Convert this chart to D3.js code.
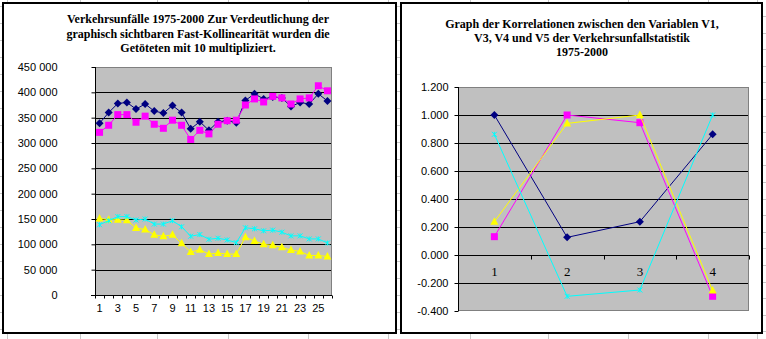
<!DOCTYPE html>
<html><head><meta charset="utf-8">
<script src="https://cdn.jsdelivr.net/npm/d3@7"></script>
<style>body{margin:0;background:#fff}svg{display:block}</style>
</head><body>
<script>
// ---------- DATA ----------
const years = d3.range(1, 27);
const xTickLabels = ["1","3","5","7","9","11","13","15","17","19","21","23","25"];
const leftYTicks = [0,50000,100000,150000,200000,250000,300000,350000,400000,450000];
const seriesNavy = [339000,360000,378000,380000,367000,377000,363000,359000,374000,360000,328000,342000,325000,342000,344000,340000,384000,397000,387000,391000,389000,372000,380000,377000,397000,383000];
const seriesMagenta = [321000,335000,356000,356000,341000,353000,337000,329000,345000,335000,307000,325000,318000,337000,344000,345000,375000,387000,381000,392000,389000,377000,387000,389000,413000,403000];
const seriesYellow = [151000,148700,148700,147300,132000,129300,118700,116000,118700,102000,84700,89300,80700,82700,80700,80700,114000,106700,100000,98000,94000,88700,86000,78000,78000,76000];
const seriesCyan = [138700,146700,154700,154700,148000,150000,140000,140000,146700,134700,116000,119300,110000,112000,108700,103300,132700,130700,126700,128000,124000,116700,116700,110700,110700,102700];

const corrCats = ["1","2","3","4"];
const rightYTicks = [-0.4,-0.2,0,0.2,0.4,0.6,0.8,1.0,1.2];
const corrV1 = [1.000, 0.126, 0.238, 0.862];
const corrV3 = [0.131, 1.000, 0.945, -0.295];
const corrV4 = [0.238, 0.940, 1.000, -0.254];
const corrV5 = [0.862, -0.295, -0.250, 1.000];

const titleLeft = ["Verkehrsunfälle 1975-2000 Zur Verdeutlichung der","graphisch sichtbaren Fast-Kollinearität wurden die","Getöteten mit 10 multipliziert."];
const titleRight = ["Graph der Korrelationen zwischen den Variablen V1,","V3, V4 und V5 der Verkehrsunfallstatistik","1975-2000"];

// ---------- DRAW ----------
const W = 766, H = 339;
const svg = d3.select("body").append("svg").attr("width", W).attr("height", H);

// spreadsheet background grid
const gridCol = "#c8c8c8";
const bg = svg.append("g").attr("shape-rendering","crispEdges");
[7,80,157,228,308,388,470,548,628,708,757].forEach(x => {
  bg.append("line").attr("x1",x+0.5).attr("x2",x+0.5).attr("y1",0).attr("y2",H).attr("stroke",gridCol);
});
for (let y = 6; y < H; y += 17) {
  bg.append("line").attr("x1",0).attr("x2",762).attr("y1",y+0.5).attr("y2",y+0.5).attr("stroke",gridCol);
}
for (let y = 16; y < H; y += 16.6) {
  bg.append("line").attr("x1",762).attr("x2",W).attr("y1",Math.round(y)+0.5).attr("y2",Math.round(y)+0.5).attr("stroke",gridCol);
}

// chart frames
svg.append("rect").attr("x",3).attr("y",3).attr("width",393).attr("height",330).attr("fill","#fff").attr("stroke","#000").attr("stroke-width",2);
svg.append("rect").attr("x",401).attr("y",3).attr("width",361).attr("height",330).attr("fill","#fff").attr("stroke","#000").attr("stroke-width",2);

// marker types
const diamond = {draw(c){c.moveTo(0,-4);c.lineTo(4,0);c.lineTo(0,4);c.lineTo(-4,0);c.closePath();}};
const square = {draw(c){c.moveTo(-3.5,-3.5);c.lineTo(3.5,-3.5);c.lineTo(3.5,3.5);c.lineTo(-3.5,3.5);c.closePath();}};
const triangle = {draw(c){c.moveTo(0,-4.5);c.lineTo(4,3);c.lineTo(-4,3);c.closePath();}};
const xmark = {draw(c){c.moveTo(-2.5,-2.5);c.lineTo(2.5,2.5);c.moveTo(-2.5,2.5);c.lineTo(2.5,-2.5);c.moveTo(0,-2.5);c.lineTo(0,2.5);}};

function drawSeries(g, data, x, y, color, type, stroked) {
  const line = d3.line().x((d,i)=>x(i)).y(d=>y(d));
  g.append("path").attr("d", line(data)).attr("fill","none").attr("stroke",color).attr("stroke-width",1);
  const sym = d3.symbol().type(type);
  g.selectAll(null).data(data).enter().append("path")
    .attr("transform",(d,i)=>`translate(${x(i)},${y(d)})`)
    .attr("d", sym())
    .attr("fill", stroked ? "none" : color)
    .attr("stroke", stroked ? color : "none")
    .attr("stroke-width", 1);
}

// ----- Left chart -----
{
  const x0 = 95, x1 = 332, yTop = 67, yBot = 295;
  const xb = d3.scaleBand().domain(years).range([x0, x1]);
  const xc = i => xb(years[i]) + xb.bandwidth()/2;
  const y = d3.scaleLinear().domain([0,450000]).range([yBot, yTop]);
  const g = svg.append("g");
  g.append("rect").attr("x",x0).attr("y",yTop).attr("width",x1-x0).attr("height",yBot-yTop).attr("fill","#c0c0c0");
  const grid = g.append("g").attr("shape-rendering","crispEdges");
  leftYTicks.filter(v=>v>0 && v<450000).forEach(v => {
    grid.append("line").attr("x1",x0).attr("x2",x1).attr("y1",Math.round(y(v))+0.5).attr("y2",Math.round(y(v))+0.5).attr("stroke","#000");
  });
  grid.append("path").attr("d",`M${x0},${yTop+0.5}H${x1-0.5}V${yBot}`).attr("fill","none").attr("stroke","#808080");

  // y axis
  const ya = d3.axisLeft(y).tickValues(leftYTicks).tickSize(4).tickPadding(34)
    .tickFormat(v => v === 0 ? "0" : d3.format(",")(v).replace(/,/g, " "));
  const yag = g.append("g").attr("transform",`translate(${x0+0.5},0)`).call(ya);
  yag.select(".domain").attr("stroke","#000").attr("d",`M-0,${yTop}V${yBot}`);
  yag.selectAll("text").attr("font-family","Liberation Sans, Arial, sans-serif").attr("font-size",11).attr("fill","#000");
  // x axis
  const xa = d3.axisBottom(xb).tickSize(0).tickFormat(d => xTickLabels.includes(String(d)) ? d : "").tickPadding(9);
  const xag = g.append("g").attr("transform",`translate(0,${yBot+0.5})`).call(xa);
  xag.select(".domain").attr("d",`M${x0-4},0H${x1}`).attr("stroke","#000");
  xag.selectAll("text").attr("font-family","Liberation Sans, Arial, sans-serif").attr("font-size",11).attr("fill","#000");
  years.concat([27]).forEach((d,i) => {
    const tx = Math.round(i < 26 ? xb(d) : x1) + 0.5;
    xag.append("line").attr("x1",tx).attr("x2",tx).attr("y1",0).attr("y2",3).attr("stroke","#000");
  });

  const sg = g.append("g");
  drawSeries(sg, seriesNavy, xc, y, "#000080", diamond, false);
  drawSeries(sg, seriesMagenta, xc, y, "#ff00ff", square, false);
  drawSeries(sg, seriesYellow, xc, y, "#ffff00", triangle, false);
  drawSeries(sg, seriesCyan, xc, y, "#00ffff", xmark, true);

  const t = g.append("text").attr("font-family","Liberation Serif, Times New Roman, serif").attr("font-weight","bold").attr("font-size",12).attr("text-anchor","middle");
  titleLeft.forEach((s,i)=> { t.append("tspan").attr("x",198).attr("y",23 + i*14.5).text(s); });
}

// ----- Right chart -----
{
  const x0 = 458, x1 = 749, yTop = 87, yBot = 311;
  const xb = d3.scaleBand().domain(corrCats).range([x0, x1]);
  const xc = i => xb(corrCats[i]) + xb.bandwidth()/2;
  const y = d3.scaleLinear().domain([-0.4,1.2]).range([yBot, yTop]);
  const g = svg.append("g");
  g.append("rect").attr("x",x0).attr("y",yTop).attr("width",x1-x0).attr("height",yBot-yTop).attr("fill","#c0c0c0");
  const grid = g.append("g").attr("shape-rendering","crispEdges");
  rightYTicks.filter(v=>v>-0.35 && v<1.15 && Math.abs(v)>1e-9).forEach(v => {
    grid.append("line").attr("x1",x0).attr("x2",x1).attr("y1",Math.round(y(v))+0.5).attr("y2",Math.round(y(v))+0.5).attr("stroke","#000");
  });
  grid.append("path").attr("d",`M${x0},${yTop+0.5}H${x1-0.5}V${yBot-0.5}H${x0}`).attr("fill","none").attr("stroke","#808080");

  const ya = d3.axisLeft(y).tickValues(rightYTicks).tickSize(4).tickPadding(6).tickFormat(v => d3.format(".3f")(v).replace("−","-"));
  const yag = g.append("g").attr("transform",`translate(${x0+0.5},0)`).call(ya);
  yag.select(".domain").attr("stroke","#000").attr("d",`M0,${yTop}V${yBot}`);
  yag.selectAll("text").attr("font-family","Liberation Sans, Arial, sans-serif").attr("font-size",11).attr("fill","#000");

  const y0 = Math.round(y(0)) + 0.5;
  const xag = g.append("g").attr("transform",`translate(0,${y0})`);
  xag.append("line").attr("x1",x0).attr("x2",x1).attr("y1",0).attr("y2",0).attr("stroke","#000");
  corrCats.forEach((d,i) => {
    const tx = Math.round(xb(d) + xb.bandwidth()) + 0.5;
    xag.append("line").attr("x1",tx).attr("x2",tx).attr("y1",0).attr("y2",4).attr("stroke","#000");
    xag.append("text").attr("x",xc(i)).attr("y",20).attr("text-anchor","middle")
      .attr("font-family","Liberation Serif, Times New Roman, serif").attr("font-size",13).text(d);
  });

  const sg = g.append("g");
  drawSeries(sg, corrV1, xc, y, "#000080", diamond, false);
  drawSeries(sg, corrV3, xc, y, "#ff00ff", square, false);
  drawSeries(sg, corrV4, xc, y, "#ffff00", triangle, false);
  drawSeries(sg, corrV5, xc, y, "#00ffff", xmark, true);

  const t = g.append("text").attr("font-family","Liberation Serif, Times New Roman, serif").attr("font-weight","bold").attr("font-size",12).attr("text-anchor","middle");
  titleRight.forEach((s,i)=> { t.append("tspan").attr("x",582).attr("y",28 + i*14).text(s); });
}
</script>
</body></html>
